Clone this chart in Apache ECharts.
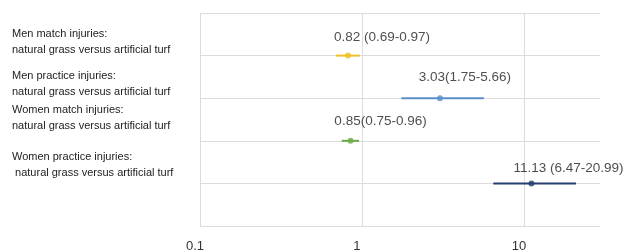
<!DOCTYPE html>
<html>
<head>
<meta charset="utf-8">
<script src="https://cdn.jsdelivr.net/npm/echarts@6/dist/echarts.min.js"></script>
<style>
  html, body { margin: 0; padding: 0; background: #fff; }
  #chart { width: 627px; height: 252px; }
</style>
</head>
<body>
<div id="chart"></div>
<script>
// rows, top to bottom
var rowLabels = [
  "Men match injuries:\nnatural grass versus artificial turf",
  "Men practice injuries:\nnatural grass versus artificial turf",
  "Women match injuries:\nnatural grass versus artificial turf",
  "Women practice injuries:\n natural grass versus artificial turf"
];
var estimate = [0.82, 3.03, 0.85, 11.13];
var ciLow = [0.69, 1.75, 0.75, 6.47];
var ciHigh = [0.97, 5.66, 0.96, 20.99];
var valueText = ["0.82 (0.69-0.97)", "3.03(1.75-5.66)", "0.85(0.75-0.96)", "11.13 (6.47-20.99)"];

var rowColors = ["#f0c026", "#5b8fc9", "#6aab48", "#263d6e"];
var labelOffsets = [[34, -18], [25, -21], [30, -20], [37, -15]];
// extra space under each row label, pushes the text up by half of it
var labelSpacer = [28, 28, 46, 36];

var chart = echarts.init(document.getElementById("chart"));

var ciData = ciLow.map(function (lo, i) {
  return [lo, ciHigh[i], i + 1];
});
var pointData = estimate.map(function (v, i) {
  return {
    value: [v, i + 1],
    itemStyle: { color: rowColors[i] },
    label: { formatter: valueText[i], offset: labelOffsets[i] }
  };
});

var rich = {};
labelSpacer.forEach(function (h, i) {
  rich["sp" + i] = { lineHeight: h, fontSize: 1 };
});

var option = {
  animation: false,
  grid: { left: 200, right: 27, top: 13, bottom: 26, outerBoundsMode: "none" },
  xAxis: {
    type: "log",
    logBase: 10,
    min: 0.1,
    max: 29.5,
    axisLine: { show: false },
    axisTick: { show: false },
    splitLine: { show: true, showMaxLine: false, lineStyle: { color: "#dcdcdc" } },
    axisLabel: {
      showMaxLabel: false,
      margin: 12,
      padding: [2, 10, 0, 0],
      fontFamily: "Liberation Sans",
      fontSize: 13,
      color: "#333"
    }
  },
  yAxis: {
    type: "value",
    inverse: true,
    min: 0,
    max: 5,
    interval: 1,
    axisLine: { show: false },
    axisTick: { show: false },
    splitLine: { show: true, lineStyle: { color: "#dcdcdc" } },
    axisLabel: {
      formatter: function (v) {
        if (!rowLabels[v - 1]) return "";
        return rowLabels[v - 1] + "\n{sp" + (v - 1) + "| }";
      },
      rich: rich,
      align: "left",
      verticalAlign: "middle",
      margin: 188,
      fontFamily: "Liberation Sans",
      fontSize: 11,
      lineHeight: 16,
      color: "#222"
    }
  },
  series: [
    {
      type: "custom",
      data: ciData,
      encode: { x: [0, 1], y: 2 },
      renderItem: function (params, api) {
        var a = api.coord([api.value(0), api.value(2)]);
        var b = api.coord([api.value(1), api.value(2)]);
        return {
          type: "line",
          shape: { x1: a[0], y1: a[1], x2: b[0], y2: b[1] },
          style: { stroke: rowColors[params.dataIndex], lineWidth: 2 }
        };
      }
    },
    {
      type: "scatter",
      symbolSize: 6,
      data: pointData,
      label: {
        show: true,
        position: "inside",
        fontFamily: "Liberation Sans",
        fontSize: 13.5,
        color: "#222"
      },
      z: 3
    }
  ]
};

chart.setOption(option);
</script>
</body>
</html>
